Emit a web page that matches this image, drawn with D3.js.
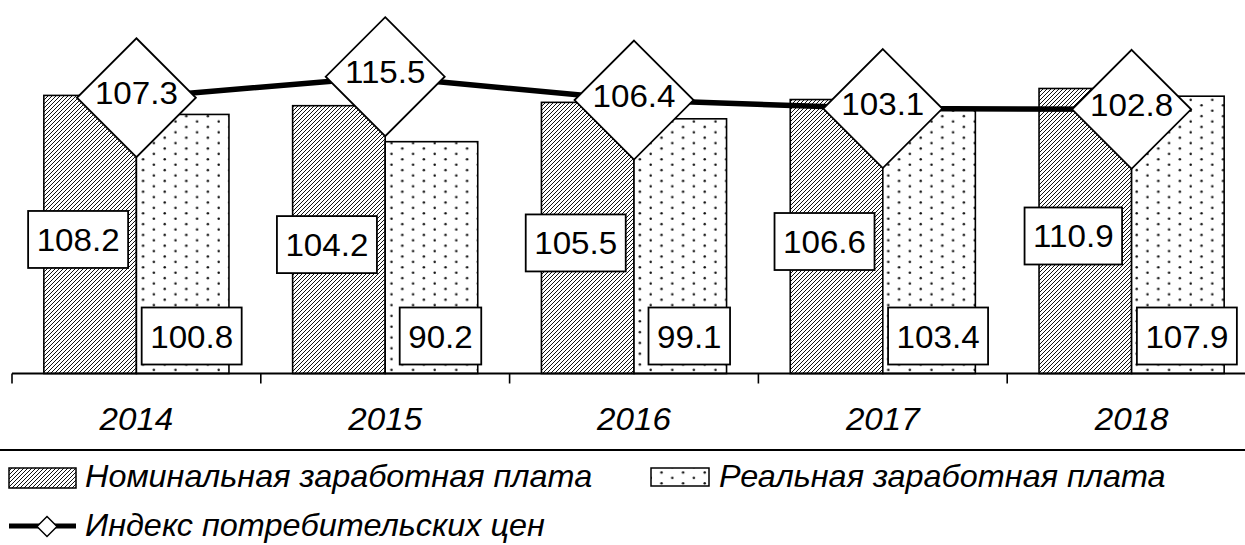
<!DOCTYPE html>
<html><head><meta charset="utf-8">
<script src="https://cdn.jsdelivr.net/npm/d3@7"></script>
<style>
html,body{margin:0;padding:0;background:#fff;}
svg{display:block;}
text{font-family:Arial,"Liberation Sans",sans-serif;fill:#000;}
</style></head>
<body>
<svg id="chart" width="1245" height="545"></svg>
<script>
const years = ["2014","2015","2016","2017","2018"];
const nominal = [108.2,104.2,105.5,106.6,110.9];
const real = [100.8,90.2,99.1,103.4,107.9];
const cpi = [107.3,115.5,106.4,103.1,102.8];
const seriesNames = ["Номинальная заработная плата","Реальная заработная плата","Индекс потребительских цен"];

const W = 1245, H = 545;
const svg = d3.select("#chart");
const defs = svg.append("defs");

// hatch pattern
const hp = defs.append("pattern").attr("id","hatch").attr("patternUnits","userSpaceOnUse")
  .attr("width",4).attr("height",4);
hp.append("rect").attr("width",4).attr("height",4).attr("fill","#fff");
hp.append("path").attr("d","M-1,1 L1,-1 M0,4 L4,0 M3,5 L5,3")
  .attr("stroke","#111").attr("stroke-width",1.0);
// dotted pattern
const dp = defs.append("pattern").attr("id","dots").attr("patternUnits","userSpaceOnUse")
  .attr("width",21.6).attr("height",10.8);
dp.append("rect").attr("width",21.6).attr("height",10.8).attr("fill","#fff");
dp.append("circle").attr("cx",2.7).attr("cy",2.7).attr("r",1.25).attr("fill","#111");
dp.append("circle").attr("cx",13.5).attr("cy",8.1).attr("r",1.25).attr("fill","#111");

const baseY = 373.5;
const y = d3.scaleLinear().domain([0,140]).range([baseY, baseY-140*2.57]);
const x0 = d3.scaleBand().domain(years).range([12,1256]).paddingInner(0.256).paddingOuter(0.128);
const x1 = d3.scaleBand().domain(["nominal","real"]).range([0,x0.bandwidth()]);
const step = x0.step();
const cx = d => x0(d) + x0.bandwidth()/2;

const FS = 31;

function stxt(g, x, yy, str, opts={}) {
  const s = opts.stretch || 1.07;
  return g.append("text")
    .attr("transform",`translate(${x},${yy}) scale(${s},1)`)
    .attr("text-anchor",opts.anchor||"middle")
    .attr("font-size",opts.size||FS)
    .attr("font-style",opts.italic?"italic":"normal")
    .text(str);
}

// bars
const bars = svg.append("g");
years.forEach((yr,i)=>{
  bars.append("rect").attr("x",x0(yr)+x1("nominal")).attr("y",y(nominal[i]))
    .attr("width",x1.bandwidth()).attr("height",y(0)-y(nominal[i]))
    .attr("fill","url(#hatch)").attr("stroke","#000").attr("stroke-width",1.6);
  bars.append("rect").attr("x",x0(yr)+x1("real")).attr("y",y(real[i]))
    .attr("width",x1.bandwidth()).attr("height",y(0)-y(real[i]))
    .attr("fill","url(#dots)").attr("stroke","#000").attr("stroke-width",1.6);
});

// axis
const ax = svg.append("g");
ax.append("line").attr("x1",12).attr("x2",W).attr("y1",y(0)).attr("y2",y(0))
  .attr("stroke","#000").attr("stroke-width",2);
d3.range(years.length+1).forEach(i=>{
  const tx = x0.range()[0] + i*step;
  ax.append("line").attr("x1",tx).attr("x2",tx).attr("y1",y(0)).attr("y2",y(0)+10)
    .attr("stroke","#000").attr("stroke-width",1.6);
});
years.forEach(yr=> stxt(ax, cx(yr), 430, yr, {italic:true}));

// CPI line
const line = d3.line().x((d,i)=>cx(years[i])).y(d=>y(d));
svg.append("path").datum(cpi).attr("d",line).attr("fill","none")
  .attr("stroke","#000").attr("stroke-width",5.5).attr("stroke-linejoin","round");

// diamonds
const dg = svg.append("g");
const R = 59.5;
cpi.forEach((v,i)=>{
  const px = cx(years[i]), py = y(v);
  dg.append("path").attr("d",`M${px},${py-R}L${px+R},${py}L${px},${py+R}L${px-R},${py}Z`)
    .attr("fill","#fff").attr("stroke","#000").attr("stroke-width",1.8);
  stxt(dg, px, py+6.5, v.toFixed(1));
});

// bar labels
const lg = svg.append("g");
function boxLabel(px, pcy, str){
  const g = lg.append("g");
  const t = stxt(g, px, pcy+11.5, str);
  const w = t.node().getComputedTextLength()*1.07 + 17;
  g.insert("rect","text").attr("x",px-w/2).attr("y",pcy-28.5).attr("width",w).attr("height",57)
    .attr("fill","#fff").attr("stroke","#000").attr("stroke-width",1.8);
}
years.forEach((yr,i)=>{
  const nx = x0(yr)+x1("nominal")+x1.bandwidth()/2;
  boxLabel(nx-12, (y(nominal[i])+y(0))/2+5, nominal[i].toFixed(1));
  const rx = x0(yr)+x1("real")+x1.bandwidth()/2;
  boxLabel(rx+9, y(0)-37.5, real[i].toFixed(1));
});

// separator
svg.append("line").attr("x1",0).attr("x2",W).attr("y1",450).attr("y2",450)
  .attr("stroke","#000").attr("stroke-width",2);

// legend
const leg = svg.append("g");
leg.append("rect").attr("x",9).attr("y",468).attr("width",67).attr("height",20)
  .attr("fill","url(#hatch)").attr("stroke","#000").attr("stroke-width",1.5);
stxt(leg, 85, 487, seriesNames[0], {italic:true, anchor:"start", stretch:1.045});
leg.append("rect").attr("x",651).attr("y",468).attr("width",58).attr("height",18)
  .attr("fill","url(#dots)").attr("stroke","#000").attr("stroke-width",1.5);
stxt(leg, 719, 487, seriesNames[1], {italic:true, anchor:"start", stretch:1.045});
leg.append("line").attr("x1",9).attr("x2",76).attr("y1",526).attr("y2",526)
  .attr("stroke","#000").attr("stroke-width",5);
leg.append("path").attr("d","M47,516.5L57,526.5L47,536.5L37,526.5Z")
  .attr("fill","#fff").attr("stroke","#000").attr("stroke-width",1.5);
stxt(leg, 85, 536, seriesNames[2], {italic:true, anchor:"start", stretch:1.045});
</script>
</body></html>
